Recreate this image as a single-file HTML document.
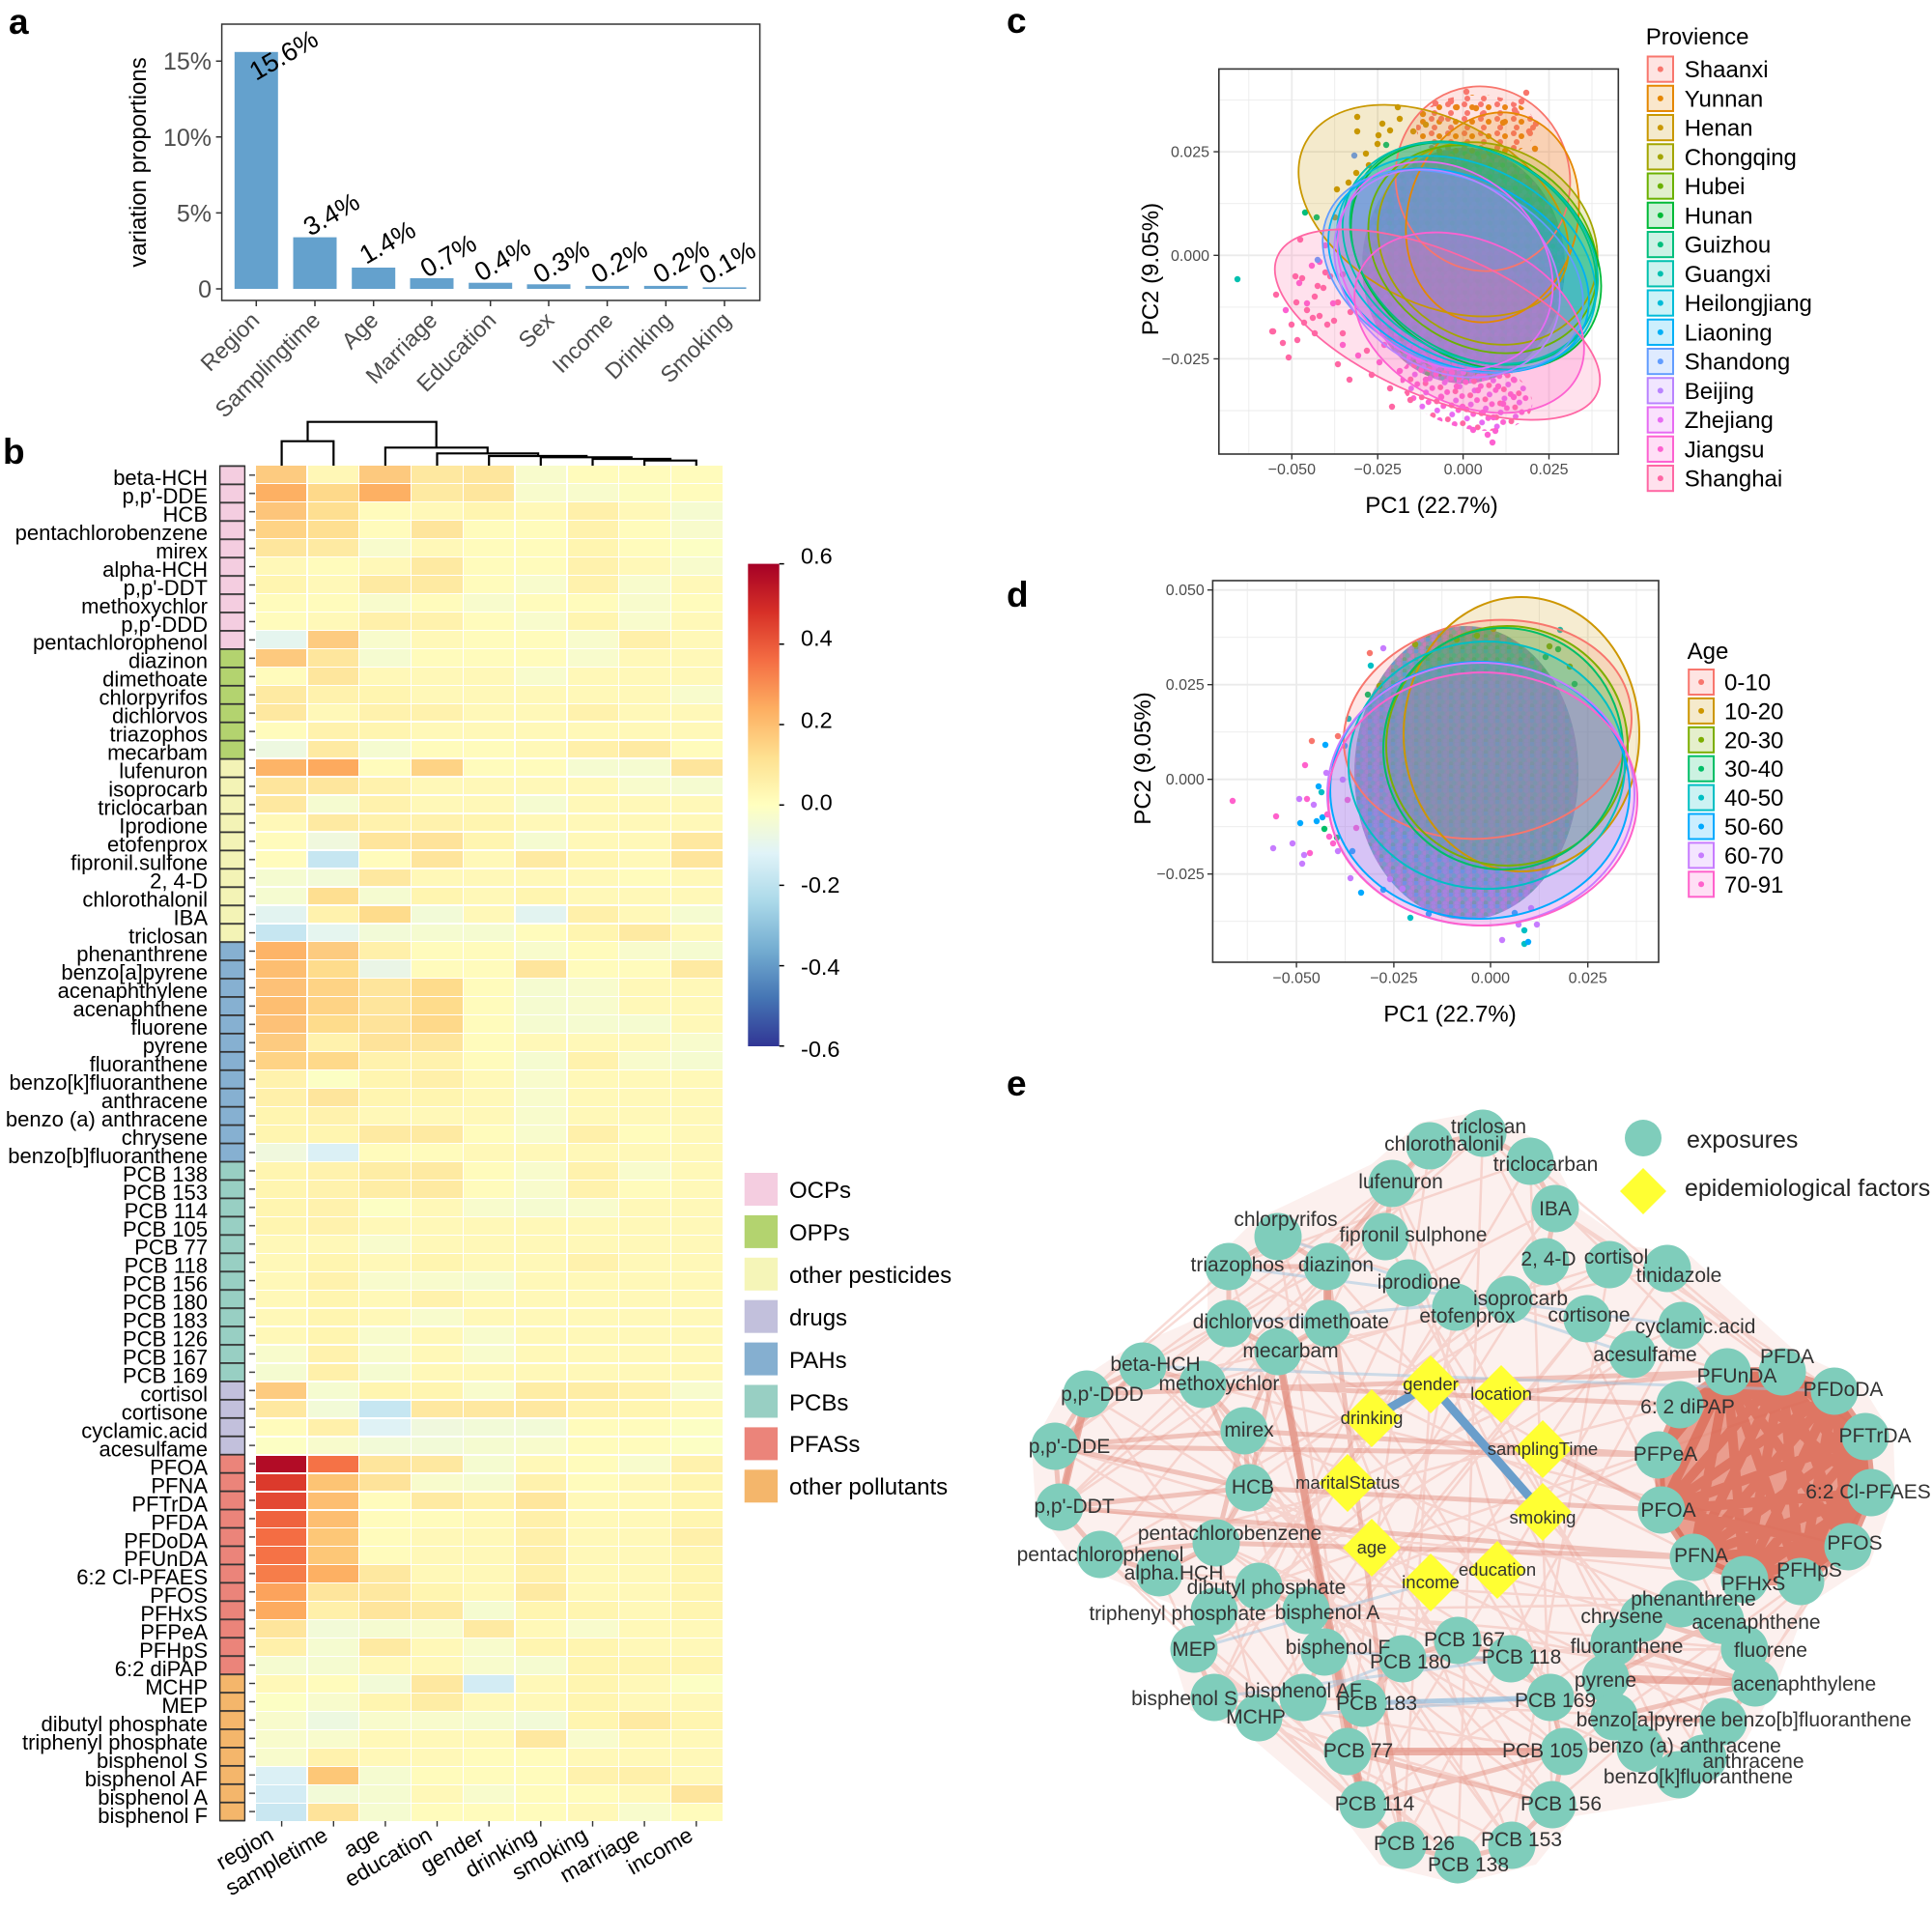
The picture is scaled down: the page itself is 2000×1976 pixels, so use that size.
<!DOCTYPE html>
<html><head><meta charset="utf-8">
<style>
body{margin:0;width:2000px;height:1976px;position:relative;background:#fff;overflow:hidden;font-family:"Liberation Sans",Arial,sans-serif}
svg{position:absolute;left:0;top:0}
svg text{font-family:"Liberation Sans",Arial,sans-serif}
#hm{position:absolute;left:264.8px;top:482.3px;width:482.8px;height:1402.3px;display:grid;grid-template-columns:repeat(9,1fr);grid-template-rows:repeat(74,1fr);gap:1.4px;background:#fff}
#hm i{display:block}
.A{background:#fffbbc}.B{background:#fff8b8}.C{background:#fff5b0}.D{background:#fff2ad}.E{background:#fff0aa}.F{background:#feeda5}.G{background:#feeaa2}.H{background:#fee59c}.I{background:#fee39a}.J{background:#f8fbcc}.K{background:#f5fbd0}.L{background:#f2fad7}.M{background:#fcfec4}.N{background:#edf8e0}.O{background:#e5f5ef}.P{background:#c6e6f1}.Q{background:#fdcb80}.R{background:#fdb063}.S{background:#fedf91}.T{background:#fed385}.U{background:#fdc57a}.V{background:#fed98a}.W{background:#fdb467}.X{background:#fdaa5e}.Y{background:#fedc8c}.Z{background:#fdbe71}
.a{background:#fdc177}.b{background:#dff2f5}.c{background:#f0f8dd}.d{background:#dbf0f5}.e{background:#d3ecf4}.f{background:#c9e7f1}.g{background:#e2f3f0}.h{background:#b20c26}.k{background:#f57246}.l{background:#dc3a2c}.m{background:#fdc474}.n{background:#e34933}.o{background:#ef633e}.p{background:#f46d43}.q{background:#fdc777}.r{background:#f67d4a}.s{background:#fca35c}.t{background:#fdab5f}.u{background:#fee8a0}.v{background:#fff7b6}.w{background:#fdc97e}.x{background:#fee69d}.y{background:#eaf5e6}.z{background:#fcfcc0}
</style></head><body>
<svg width="2000" height="1976" viewBox="0 0 2000 1976" font-family="Liberation Sans, Arial, sans-serif">
<defs>
<linearGradient id="cb" x1="0" y1="0" x2="0" y2="1">
<stop offset="0" stop-color="#a50026"/><stop offset=".1" stop-color="#d73027"/><stop offset=".2" stop-color="#f46d43"/><stop offset=".3" stop-color="#fdae61"/><stop offset=".4" stop-color="#fee090"/><stop offset=".5" stop-color="#ffffbf"/><stop offset=".6" stop-color="#e0f3f8"/><stop offset=".7" stop-color="#abd9e9"/><stop offset=".8" stop-color="#74add1"/><stop offset=".9" stop-color="#4575b4"/><stop offset="1" stop-color="#313695"/>
</linearGradient>
<pattern id="rowl" x="227" y="481.5" width="28" height="18.95" patternUnits="userSpaceOnUse"><rect width="28" height="1.8" fill="#333"/></pattern>
<pattern id="tk" x="258" y="482.3" width="6" height="18.95" patternUnits="userSpaceOnUse"><rect y="8.8" width="6" height="1.4" fill="#333"/></pattern>
<pattern id="pc" width="13" height="12" patternUnits="userSpaceOnUse"><rect width="13" height="12" fill="#9a88b8"/><circle cx="2" cy="2" r="2.6" fill="#8a8ee8"/><circle cx="8.5" cy="3" r="2.6" fill="#4fae6a"/><circle cx="5" cy="7" r="2.6" fill="#B983FF"/><circle cx="11.5" cy="8" r="2.6" fill="#4fb8bc"/><circle cx="2" cy="10.5" r="2.6" fill="#E76BF3"/><circle cx="8.5" cy="11" r="2.6" fill="#c070d0"/></pattern>
<pattern id="pt" width="17" height="15" patternUnits="userSpaceOnUse"><circle cx="3" cy="3" r="3" fill="#F8766D"/><circle cx="11" cy="6" r="3" fill="#E58700"/><circle cx="6" cy="12" r="3" fill="#F8766D"/></pattern>
<pattern id="pp" width="16" height="15" patternUnits="userSpaceOnUse"><circle cx="3" cy="3" r="3" fill="#FF67A4"/><circle cx="11" cy="6" r="3" fill="#FD61D1"/><circle cx="6" cy="12" r="3" fill="#E76BF3"/></pattern>
<pattern id="pd" width="12" height="12" patternUnits="userSpaceOnUse"><rect width="12" height="12" fill="#8d93bb"/><circle cx="2" cy="2" r="2.4" fill="#4aa3e0"/><circle cx="8" cy="2.5" r="2.4" fill="#a888d8"/><circle cx="5" cy="6.5" r="2.4" fill="#5ab0b4"/><circle cx="11" cy="7" r="2.4" fill="#c080c0"/><circle cx="2" cy="10.5" r="2.4" fill="#5aa888"/><circle cx="8" cy="11" r="2.4" fill="#a888d8"/></pattern>
<ellipse id="c1" cx="1535" cy="185" rx="90" ry="96" transform="rotate(-15 1535 185)"/>
<ellipse id="c2" cx="1545" cy="225" rx="88" ry="110" transform="rotate(15 1545 225)"/>
<ellipse id="c3" cx="1484" cy="218" rx="150" ry="95" transform="rotate(28 1484 218)"/>
<ellipse id="c4" cx="1540" cy="252" rx="118" ry="100" transform="rotate(30 1540 252)"/>
<ellipse id="c5" cx="1535" cy="258" rx="125" ry="100" transform="rotate(32 1535 258)"/>
<ellipse id="c6" cx="1528" cy="265" rx="140" ry="105" transform="rotate(35 1528 265)"/>
<ellipse id="c7" cx="1525" cy="262" rx="138" ry="103" transform="rotate(35 1525 262)"/>
<ellipse id="c8" cx="1522" cy="262" rx="140" ry="105" transform="rotate(30 1522 262)"/>
<ellipse id="c9" cx="1518" cy="272" rx="142" ry="100" transform="rotate(28 1518 272)"/>
<ellipse id="c10" cx="1510" cy="280" rx="142" ry="96" transform="rotate(25 1510 280)"/>
<ellipse id="c11" cx="1504" cy="281" rx="142" ry="95" transform="rotate(25 1504 281)"/>
<ellipse id="c12" cx="1498" cy="283" rx="125" ry="98" transform="rotate(35 1498 283)"/>
<ellipse id="c13" cx="1496" cy="275" rx="120" ry="98" transform="rotate(40 1496 275)"/>
<ellipse id="c14" cx="1521" cy="334" rx="125" ry="85" transform="rotate(25 1521 334)"/>
<ellipse id="c15" cx="1488" cy="336" rx="180" ry="75" transform="rotate(23 1488 336)"/>
<ellipse id="d1" cx="1540" cy="755" rx="150" ry="112" transform="rotate(-10 1540 755)"/>
<ellipse id="d2" cx="1575" cy="760" rx="122" ry="142"/>
<ellipse id="d3" cx="1560" cy="772" rx="125" ry="124"/>
<ellipse id="d4" cx="1556" cy="775" rx="124" ry="125"/>
<ellipse id="d5" cx="1539" cy="792" rx="143" ry="128"/>
<ellipse id="d6" cx="1532" cy="818" rx="155" ry="133"/>
<ellipse id="d7" cx="1533" cy="822" rx="159" ry="136"/>
<ellipse id="d8" cx="1535" cy="827" rx="160" ry="131"/>
<clipPath id="clc"><rect x="1261.8" y="71.4" width="413.5" height="398.6"/></clipPath>
<clipPath id="cld"><rect x="1255.4" y="601" width="461.6" height="395"/></clipPath>
</defs>

<!-- panel letters -->
<g font-size="37" font-weight="bold" fill="#000">
<text x="9" y="35">a</text><text x="3" y="480">b</text><text x="1042" y="34">c</text><text x="1042" y="628">d</text><text x="1042" y="1134">e</text>
</g>

<!-- ===== panel a ===== -->
<g fill="#64a1cd">
<rect x="242.8" y="53.8" width="45" height="245.2"/>
<rect x="303.5" y="245.6" width="45" height="53.4"/>
<rect x="364.2" y="277" width="45" height="22"/>
<rect x="424.5" y="288" width="45" height="11"/>
<rect x="485.2" y="292.7" width="45" height="6.3"/>
<rect x="545.5" y="294.3" width="45" height="4.7"/>
<rect x="606.1" y="295.9" width="45" height="3.1"/>
<rect x="666.8" y="295.9" width="45" height="3.1"/>
<rect x="727.5" y="297.4" width="45" height="1.6"/>
</g>
<rect x="229.6" y="25" width="557" height="286" fill="none" stroke="#333" stroke-width="1.5"/>
<path d="M223.6 299h6M223.6 220.4h6M223.6 141.8h6M223.6 63.2h6M265.3 311v6M326 311v6M386.7 311v6M447 311v6M507.7 311v6M568 311v6M628.6 311v6M689.3 311v6M750 311v6" stroke="#333" stroke-width="1.5"/>
<g font-size="25" fill="#4d4d4d" text-anchor="end">
<text x="219" y="308">0</text><text x="219" y="229.4">5%</text><text x="219" y="150.8">10%</text><text x="219" y="72.2">15%</text>
</g>
<text transform="translate(151 168) rotate(-90)" text-anchor="middle" font-size="24" fill="#000">variation proportions</text>
<g font-size="27" fill="#000">
<text transform="translate(265 84) rotate(-30)">15.6%</text>
<text transform="translate(321 245) rotate(-30)">3.4%</text>
<text transform="translate(379 274) rotate(-30)">1.4%</text>
<text transform="translate(442 288) rotate(-30)">0.7%</text>
<text transform="translate(498 292) rotate(-30)">0.4%</text>
<text transform="translate(559 294) rotate(-30)">0.3%</text>
<text transform="translate(619 294) rotate(-30)">0.2%</text>
<text transform="translate(683 294) rotate(-30)">0.2%</text>
<text transform="translate(731 295) rotate(-30)">0.1%</text>
</g>
<g font-size="23.5" fill="#4d4d4d" text-anchor="end">
<text transform="translate(270 333) rotate(-45)">Region</text>
<text transform="translate(333 333) rotate(-45)">Samplingtime</text>
<text transform="translate(393 333) rotate(-45)">Age</text>
<text transform="translate(454 333) rotate(-45)">Marriage</text>
<text transform="translate(515 333) rotate(-45)">Education</text>
<text transform="translate(575 333) rotate(-45)">Sex</text>
<text transform="translate(636 333) rotate(-45)">Income</text>
<text transform="translate(697 333) rotate(-45)">Drinking</text>
<text transform="translate(758 333) rotate(-45)">Smoking</text>
</g>

<!-- ===== panel b ===== -->
<path d="M291.6 482.3V456.7H345.3V482.3M318.5 456.7V436.7H451.7V463.3M398.9 482.3V463.3H504.75V469.3M452.5 482.3V469.3H557.1V472M506.2 482.3V472H607.2V473.3M559.8 482.3V473.3H653.75V475M613.5 482.3V475H694V476.7M667.1 482.3V476.7H720.8V482.3" fill="none" stroke="#000" stroke-width="2.2"/>
<g>
<rect x="227.6" y="482.3" width="25.8" height="189.5" fill="#f4cde0"/>
<rect x="227.6" y="671.8" width="25.8" height="113.7" fill="#b3d36f"/>
<rect x="227.6" y="785.5" width="25.8" height="189.5" fill="#f3f3b6"/>
<rect x="227.6" y="975" width="25.8" height="227.4" fill="#86b0d1"/>
<rect x="227.6" y="1202.4" width="25.8" height="227.4" fill="#98cfc3"/>
<rect x="227.6" y="1429.8" width="25.8" height="75.8" fill="#c2c0dc"/>
<rect x="227.6" y="1505.6" width="25.8" height="227.4" fill="#eb847a"/>
<rect x="227.6" y="1733" width="25.8" height="151.6" fill="#f4b66b"/>
<rect x="227.6" y="481.5" width="25.8" height="1404" fill="url(#rowl)"/>
<rect x="227.6" y="482.3" width="25.8" height="1402.3" fill="none" stroke="#333" stroke-width="1.4"/>
<rect x="258" y="482.3" width="6" height="1402.3" fill="url(#tk)"/>
</g>
<text x="215" y="502" text-anchor="end" font-size="22" fill="#000"><tspan x="215">beta-HCH</tspan><tspan x="215" dy="18.97">p,p'-DDE</tspan><tspan x="215" dy="18.97">HCB</tspan><tspan x="215" dy="18.97">pentachlorobenzene</tspan><tspan x="215" dy="18.97">mirex</tspan><tspan x="215" dy="18.97">alpha-HCH</tspan><tspan x="215" dy="18.97">p,p'-DDT</tspan><tspan x="215" dy="18.97">methoxychlor</tspan><tspan x="215" dy="18.97">p,p'-DDD</tspan><tspan x="215" dy="18.97">pentachlorophenol</tspan><tspan x="215" dy="18.97">diazinon</tspan><tspan x="215" dy="18.97">dimethoate</tspan><tspan x="215" dy="18.97">chlorpyrifos</tspan><tspan x="215" dy="18.97">dichlorvos</tspan><tspan x="215" dy="18.97">triazophos</tspan><tspan x="215" dy="18.97">mecarbam</tspan><tspan x="215" dy="18.97">lufenuron</tspan><tspan x="215" dy="18.97">isoprocarb</tspan><tspan x="215" dy="18.97">triclocarban</tspan><tspan x="215" dy="18.97">Iprodione</tspan><tspan x="215" dy="18.97">etofenprox</tspan><tspan x="215" dy="18.97">fipronil.sulfone</tspan><tspan x="215" dy="18.97">2, 4-D</tspan><tspan x="215" dy="18.97">chlorothalonil</tspan><tspan x="215" dy="18.97">IBA</tspan><tspan x="215" dy="18.97">triclosan</tspan><tspan x="215" dy="18.97">phenanthrene</tspan><tspan x="215" dy="18.97">benzo[a]pyrene</tspan><tspan x="215" dy="18.97">acenaphthylene</tspan><tspan x="215" dy="18.97">acenaphthene</tspan><tspan x="215" dy="18.97">fluorene</tspan><tspan x="215" dy="18.97">pyrene</tspan><tspan x="215" dy="18.97">fluoranthene</tspan><tspan x="215" dy="18.97">benzo[k]fluoranthene</tspan><tspan x="215" dy="18.97">anthracene</tspan><tspan x="215" dy="18.97">benzo (a) anthracene</tspan><tspan x="215" dy="18.97">chrysene</tspan><tspan x="215" dy="18.97">benzo[b]fluoranthene</tspan><tspan x="215" dy="18.97">PCB 138</tspan><tspan x="215" dy="18.97">PCB 153</tspan><tspan x="215" dy="18.97">PCB 114</tspan><tspan x="215" dy="18.97">PCB 105</tspan><tspan x="215" dy="18.97">PCB 77</tspan><tspan x="215" dy="18.97">PCB 118</tspan><tspan x="215" dy="18.97">PCB 156</tspan><tspan x="215" dy="18.97">PCB 180</tspan><tspan x="215" dy="18.97">PCB 183</tspan><tspan x="215" dy="18.97">PCB 126</tspan><tspan x="215" dy="18.97">PCB 167</tspan><tspan x="215" dy="18.97">PCB 169</tspan><tspan x="215" dy="18.97">cortisol</tspan><tspan x="215" dy="18.97">cortisone</tspan><tspan x="215" dy="18.97">cyclamic.acid</tspan><tspan x="215" dy="18.97">acesulfame</tspan><tspan x="215" dy="18.97">PFOA</tspan><tspan x="215" dy="18.97">PFNA</tspan><tspan x="215" dy="18.97">PFTrDA</tspan><tspan x="215" dy="18.97">PFDA</tspan><tspan x="215" dy="18.97">PFDoDA</tspan><tspan x="215" dy="18.97">PFUnDA</tspan><tspan x="215" dy="18.97">6:2 Cl-PFAES</tspan><tspan x="215" dy="18.97">PFOS</tspan><tspan x="215" dy="18.97">PFHxS</tspan><tspan x="215" dy="18.97">PFPeA</tspan><tspan x="215" dy="18.97">PFHpS</tspan><tspan x="215" dy="18.97">6:2 diPAP</tspan><tspan x="215" dy="18.97">MCHP</tspan><tspan x="215" dy="18.97">MEP</tspan><tspan x="215" dy="18.97">dibutyl phosphate</tspan><tspan x="215" dy="18.97">triphenyl phosphate</tspan><tspan x="215" dy="18.97">bisphenol S</tspan><tspan x="215" dy="18.97">bisphenol AF</tspan><tspan x="215" dy="18.97">bisphenol A</tspan><tspan x="215" dy="18.97">bisphenol F</tspan></text>
<path d="M291.6 1884.6v6M345.3 1884.6v6M398.9 1884.6v6M452.5 1884.6v6M506.2 1884.6v6M559.8 1884.6v6M613.5 1884.6v6M667.1 1884.6v6M720.8 1884.6v6" stroke="#333" stroke-width="1.4"/>
<g font-size="23" fill="#000" text-anchor="end">
<text transform="translate(285 1904) rotate(-30)">region</text>
<text transform="translate(341 1904) rotate(-30)">sampletime</text>
<text transform="translate(395 1904) rotate(-30)">age</text>
<text transform="translate(449 1904) rotate(-30)">education</text>
<text transform="translate(503 1904) rotate(-30)">gender</text>
<text transform="translate(557 1904) rotate(-30)">drinking</text>
<text transform="translate(610 1904) rotate(-30)">smoking</text>
<text transform="translate(664 1904) rotate(-30)">marriage</text>
<text transform="translate(719 1904) rotate(-30)">income</text>
</g>
<!-- colorbar -->
<rect x="774.3" y="583.6" width="32.4" height="499.4" fill="url(#cb)"/>
<path d="M806.7 583.6h5M806.7 666.8h5M806.7 750h5M806.7 833.2h5M806.7 916.4h5M806.7 999.6h5M806.7 1082.8h5" stroke="#000" stroke-width="1.5"/>
<g font-size="23.5" fill="#000">
<text x="829" y="583.5">0.6</text><text x="829" y="668.6">0.4</text><text x="829" y="753.7">0.2</text><text x="829" y="838.7">0.0</text><text x="829" y="923.8">-0.2</text><text x="829" y="1008.9">-0.4</text><text x="829" y="1094">-0.6</text>
</g>
<!-- group legend -->
<g>
<rect x="770.7" y="1214" width="34.3" height="34" fill="#f4cde0"/>
<rect x="770.7" y="1257.9" width="34.3" height="34" fill="#b3d36f"/>
<rect x="770.7" y="1301.8" width="34.3" height="34" fill="#f5f5b8"/>
<rect x="770.7" y="1345.7" width="34.3" height="34" fill="#c2c0dc"/>
<rect x="770.7" y="1389.6" width="34.3" height="34" fill="#85afd0"/>
<rect x="770.7" y="1433.5" width="34.3" height="34" fill="#98cfc3"/>
<rect x="770.7" y="1477.4" width="34.3" height="34" fill="#eb847a"/>
<rect x="770.7" y="1521.3" width="34.3" height="34" fill="#f4b66b"/>
</g>
<g font-size="24" fill="#000">
<text x="817" y="1240">OCPs</text><text x="817" y="1284">OPPs</text><text x="817" y="1328">other pesticides</text><text x="817" y="1372">drugs</text><text x="817" y="1416">PAHs</text><text x="817" y="1460">PCBs</text><text x="817" y="1503">PFASs</text><text x="817" y="1547">other pollutants</text>
</g>

<!-- ===== panel c ===== -->
<g stroke="#ebebeb" fill="none">
<path stroke-width="0.9" d="M1292.8 71.4V470M1381.7 71.4V470M1470.7 71.4V470M1559 71.4V470M1648 71.4V470M1261.8 103.6H1675.3M1261.8 210.7H1675.3M1261.8 317.9H1675.3M1261.8 425H1675.3"/>
<path stroke-width="1.8" d="M1337.3 71.4V470M1426.2 71.4V470M1514.6 71.4V470M1603.5 71.4V470M1261.8 157.1H1675.3M1261.8 264.3H1675.3M1261.8 371.4H1675.3"/>
</g>
<g clip-path="url(#clc)">
<ellipse cx="1515" cy="275" rx="105" ry="122" fill="url(#pc)"/>
<ellipse cx="1528" cy="132" rx="62" ry="34" fill="url(#pt)"/>
<ellipse cx="1518" cy="405" rx="70" ry="38" transform="rotate(15 1518 405)" fill="url(#pp)"/>
<g fill="#FF67A4">
<circle cx="1346" cy="248" r="3.2"/><circle cx="1341" cy="286" r="3.2"/><circle cx="1348" cy="288" r="3.2"/><circle cx="1321" cy="305" r="3.2"/><circle cx="1342" cy="313" r="3.2"/><circle cx="1361" cy="307" r="3.2"/><circle cx="1364" cy="296" r="3.2"/><circle cx="1370" cy="298" r="3.2"/><circle cx="1353" cy="321" r="3.2"/><circle cx="1359" cy="329" r="3.2"/><circle cx="1366" cy="327" r="3.2"/><circle cx="1350" cy="334" r="3.2"/><circle cx="1343" cy="352" r="3.2"/><circle cx="1317" cy="343" r="3.2"/><circle cx="1337" cy="336" r="3.2"/><circle cx="1374" cy="336" r="3.2"/><circle cx="1381" cy="332" r="3.2"/><circle cx="1390" cy="345" r="3.2"/><circle cx="1361" cy="345" r="3.2"/><circle cx="1385" cy="377" r="3.2"/><circle cx="1397" cy="393" r="3.2"/><circle cx="1420" cy="388" r="3.2"/><circle cx="1415" cy="363" r="3.2"/><circle cx="1439" cy="402" r="3.2"/><circle cx="1441" cy="421" r="3.2"/><circle cx="1460" cy="414" r="3.2"/><circle cx="1372" cy="282" r="3.2"/><circle cx="1377" cy="286" r="3.2"/><circle cx="1390" cy="284" r="3.2"/><circle cx="1385" cy="313" r="3.2"/><circle cx="1398" cy="323" r="3.2"/><circle cx="1318" cy="343" r="3.2"/><circle cx="1328" cy="355" r="3.2"/><circle cx="1334" cy="370" r="3.2"/>
</g>
<g fill="#FD61D1">
<circle cx="1366" cy="271" r="3.2"/><circle cx="1358" cy="275" r="3.2"/><circle cx="1372" cy="254" r="3.2"/><circle cx="1380" cy="314" r="3.2"/><circle cx="1353" cy="314" r="3.2"/><circle cx="1345" cy="293" r="3.2"/><circle cx="1331" cy="321" r="3.2"/><circle cx="1390" cy="357" r="3.2"/><circle cx="1406" cy="368" r="3.2"/><circle cx="1428" cy="375" r="3.2"/><circle cx="1433" cy="357" r="3.2"/><circle cx="1449" cy="384" r="3.2"/><circle cx="1476" cy="393" r="3.2"/><circle cx="1492" cy="411" r="3.2"/><circle cx="1514" cy="421" r="3.2"/><circle cx="1535" cy="427" r="3.2"/><circle cx="1546" cy="432" r="3.2"/><circle cx="1540" cy="450" r="3.2"/><circle cx="1548" cy="446" r="3.2"/><circle cx="1525" cy="445" r="3.2"/><circle cx="1556" cy="418" r="3.2"/><circle cx="1567" cy="411" r="3.2"/><circle cx="1508" cy="400" r="3.2"/><circle cx="1530" cy="404" r="3.2"/><circle cx="1551" cy="400" r="3.2"/><circle cx="1481" cy="375" r="3.2"/><circle cx="1503" cy="386" r="3.2"/><circle cx="1465" cy="361" r="3.2"/><circle cx="1535" cy="389" r="3.2"/><circle cx="1559" cy="386" r="3.2"/><circle cx="1567" cy="393" r="3.2"/><circle cx="1545" cy="458" r="3.2"/>
</g>
<g fill="#C99800">
<circle cx="1405" cy="121" r="3.2"/><circle cx="1405" cy="136" r="3.2"/><circle cx="1431" cy="128" r="3.2"/><circle cx="1439" cy="135" r="3.2"/><circle cx="1426" cy="149" r="3.2"/><circle cx="1414" cy="159" r="3.2"/><circle cx="1404" cy="179" r="3.2"/><circle cx="1396" cy="189" r="3.2"/><circle cx="1384" cy="196" r="3.2"/><circle cx="1382" cy="225" r="3.2"/><circle cx="1447" cy="111" r="3.2"/><circle cx="1449" cy="123" r="3.2"/><circle cx="1463" cy="136" r="3.2"/><circle cx="1476" cy="129" r="3.2"/><circle cx="1417" cy="171" r="3.2"/><circle cx="1427" cy="140" r="3.2"/>
</g>
<g fill="#F8766D">
<circle cx="1518" cy="95" r="3.2"/><circle cx="1580" cy="96" r="3.2"/><circle cx="1575" cy="105" r="3.2"/><circle cx="1568" cy="114" r="3.2"/><circle cx="1486" cy="107" r="3.2"/><circle cx="1535" cy="118" r="3.2"/><circle cx="1583" cy="136" r="3.2"/><circle cx="1492" cy="123" r="3.2"/><circle cx="1502" cy="105" r="3.2"/><circle cx="1590" cy="128" r="3.2"/>
</g>
<g fill="#E58700"><circle cx="1508" cy="111" r="3.2"/><circle cx="1556" cy="127" r="3.2"/><circle cx="1589" cy="154" r="3.2"/><circle cx="1473" cy="118" r="3.2"/><circle cx="1528" cy="112" r="3.2"/></g>
<circle cx="1364" cy="269" r="3.2" fill="#619CFF"/><circle cx="1402" cy="161" r="3.2" fill="#619CFF"/><circle cx="1281" cy="289" r="3.2" fill="#00C0AF"/><circle cx="1351" cy="220" r="3.2" fill="#00BF7D"/><circle cx="1363" cy="225" r="3.2" fill="#00BF7D"/><circle cx="1435" cy="150" r="3.2" fill="#00BF7D"/>
<g fill-opacity=".2">
<use href="#c1" fill="#F8766D"/><use href="#c2" fill="#E58700"/><use href="#c3" fill="#C99800"/><use href="#c4" fill="#A3A500"/><use href="#c5" fill="#6BB100"/><use href="#c6" fill="#00BA38"/><use href="#c7" fill="#00BF7D"/><use href="#c8" fill="#00C0AF"/><use href="#c9" fill="#00BCD8"/><use href="#c10" fill="#00B0F6"/><use href="#c11" fill="#619CFF"/><use href="#c12" fill="#B983FF"/><use href="#c13" fill="#E76BF3"/><use href="#c14" fill="#FD61D1"/><use href="#c15" fill="#FF67A4"/>
</g>
<g fill="none" stroke-width="1.8">
<use href="#c1" stroke="#F8766D"/><use href="#c2" stroke="#E58700"/><use href="#c3" stroke="#C99800"/><use href="#c4" stroke="#A3A500"/><use href="#c5" stroke="#6BB100"/><use href="#c6" stroke="#00BA38"/><use href="#c7" stroke="#00BF7D"/><use href="#c8" stroke="#00C0AF"/><use href="#c9" stroke="#00BCD8"/><use href="#c10" stroke="#00B0F6"/><use href="#c11" stroke="#619CFF"/><use href="#c12" stroke="#B983FF"/><use href="#c13" stroke="#E76BF3"/><use href="#c14" stroke="#FD61D1"/><use href="#c15" stroke="#FF67A4"/>
</g>
</g>
<rect x="1261.8" y="71.4" width="413.5" height="398.6" fill="none" stroke="#333" stroke-width="1.6"/>
<path d="M1256.3 157.1h5.5M1256.3 264.3h5.5M1256.3 371.4h5.5M1337.3 470v5.5M1426.2 470v5.5M1514.6 470v5.5M1603.5 470v5.5" stroke="#333" stroke-width="1.4"/>
<g font-size="16" fill="#4d4d4d">
<g text-anchor="end"><text x="1252" y="162.6">0.025</text><text x="1252" y="269.8">0.000</text><text x="1252" y="376.9">−0.025</text></g>
<g text-anchor="middle"><text x="1337.3" y="491">−0.050</text><text x="1426.2" y="491">−0.025</text><text x="1514.6" y="491">0.000</text><text x="1603.5" y="491">0.025</text></g>
</g>
<text x="1482" y="531" text-anchor="middle" font-size="24">PC1 (22.7%)</text>
<text transform="translate(1199 278.6) rotate(-90)" text-anchor="middle" font-size="24">PC2 (9.05%)</text>
<text x="1703.7" y="46" font-size="24">Provience</text>
<g transform="translate(0 -2.5)">
<g stroke-width="2" fill-opacity=".2">
<rect x="1705.7" y="61" width="26.3" height="26.2" fill="#F8766D" stroke="#F8766D"/>
<rect x="1705.7" y="91.25" width="26.3" height="26.2" fill="#E58700" stroke="#E58700"/>
<rect x="1705.7" y="121.5" width="26.3" height="26.2" fill="#C99800" stroke="#C99800"/>
<rect x="1705.7" y="151.75" width="26.3" height="26.2" fill="#A3A500" stroke="#A3A500"/>
<rect x="1705.7" y="182" width="26.3" height="26.2" fill="#6BB100" stroke="#6BB100"/>
<rect x="1705.7" y="212.25" width="26.3" height="26.2" fill="#00BA38" stroke="#00BA38"/>
<rect x="1705.7" y="242.5" width="26.3" height="26.2" fill="#00BF7D" stroke="#00BF7D"/>
<rect x="1705.7" y="272.75" width="26.3" height="26.2" fill="#00C0AF" stroke="#00C0AF"/>
<rect x="1705.7" y="303" width="26.3" height="26.2" fill="#00BCD8" stroke="#00BCD8"/>
<rect x="1705.7" y="333.25" width="26.3" height="26.2" fill="#00B0F6" stroke="#00B0F6"/>
<rect x="1705.7" y="363.5" width="26.3" height="26.2" fill="#619CFF" stroke="#619CFF"/>
<rect x="1705.7" y="393.75" width="26.3" height="26.2" fill="#B983FF" stroke="#B983FF"/>
<rect x="1705.7" y="424" width="26.3" height="26.2" fill="#E76BF3" stroke="#E76BF3"/>
<rect x="1705.7" y="454.25" width="26.3" height="26.2" fill="#FD61D1" stroke="#FD61D1"/>
<rect x="1705.7" y="484.5" width="26.3" height="26.2" fill="#FF67A4" stroke="#FF67A4"/>
</g>
<g>
<circle cx="1718.85" cy="74.1" r="3" fill="#F8766D"/><circle cx="1718.85" cy="104.35" r="3" fill="#E58700"/><circle cx="1718.85" cy="134.6" r="3" fill="#C99800"/><circle cx="1718.85" cy="164.85" r="3" fill="#A3A500"/><circle cx="1718.85" cy="195.1" r="3" fill="#6BB100"/><circle cx="1718.85" cy="225.35" r="3" fill="#00BA38"/><circle cx="1718.85" cy="255.6" r="3" fill="#00BF7D"/><circle cx="1718.85" cy="285.85" r="3" fill="#00C0AF"/><circle cx="1718.85" cy="316.1" r="3" fill="#00BCD8"/><circle cx="1718.85" cy="346.35" r="3" fill="#00B0F6"/><circle cx="1718.85" cy="376.6" r="3" fill="#619CFF"/><circle cx="1718.85" cy="406.85" r="3" fill="#B983FF"/><circle cx="1718.85" cy="437.1" r="3" fill="#E76BF3"/><circle cx="1718.85" cy="467.35" r="3" fill="#FD61D1"/><circle cx="1718.85" cy="497.6" r="3" fill="#FF67A4"/>
</g>
<g font-size="24" fill="#000">
<text x="1743.8" y="82.6">Shaanxi</text><text x="1743.8" y="112.85">Yunnan</text><text x="1743.8" y="143.1">Henan</text><text x="1743.8" y="173.35">Chongqing</text><text x="1743.8" y="203.6">Hubei</text><text x="1743.8" y="233.85">Hunan</text><text x="1743.8" y="264.1">Guizhou</text><text x="1743.8" y="294.35">Guangxi</text><text x="1743.8" y="324.6">Heilongjiang</text><text x="1743.8" y="354.85">Liaoning</text><text x="1743.8" y="385.1">Shandong</text><text x="1743.8" y="415.35">Beijing</text><text x="1743.8" y="445.6">Zhejiang</text><text x="1743.8" y="475.85">Jiangsu</text><text x="1743.8" y="506.1">Shanghai</text>
</g>
</g>

<!-- ===== panel d ===== -->
<g stroke="#ebebeb" fill="none">
<path stroke-width="0.9" d="M1291.2 601V996M1392.5 601V996M1492.7 601V996M1593.4 601V996M1694 601V996M1255.4 659.7H1717M1255.4 757.7H1717M1255.4 855.7H1717M1255.4 953.7H1717"/>
<path stroke-width="1.8" d="M1342.1 601V996M1442.9 601V996M1543 601V996M1643.7 601V996M1255.4 610.7H1717M1255.4 708.7H1717M1255.4 806.7H1717M1255.4 904.7H1717"/>
</g>
<g clip-path="url(#cld)">
<ellipse cx="1518" cy="800" rx="116" ry="152" fill="url(#pd)"/>
<circle cx="1276" cy="829" r="3.2" fill="#FF61CC"/><circle cx="1321" cy="845" r="3.2" fill="#FF61CC"/><circle cx="1318" cy="878" r="3.2" fill="#C77CFF"/><circle cx="1338" cy="873" r="3.2" fill="#C77CFF"/><circle cx="1346" cy="852" r="3.2" fill="#00A9FF"/><circle cx="1348" cy="894" r="3.2" fill="#C77CFF"/><circle cx="1345" cy="827" r="3.2" fill="#C77CFF"/><circle cx="1351" cy="792" r="3.2" fill="#FF61CC"/><circle cx="1353" cy="827" r="3.2" fill="#FF61CC"/><circle cx="1358" cy="767" r="3.2" fill="#F8766D"/><circle cx="1360" cy="833" r="3.2" fill="#C77CFF"/><circle cx="1350" cy="885" r="3.2" fill="#C77CFF"/><circle cx="1356" cy="883" r="3.2" fill="#FF61CC"/><circle cx="1363" cy="850" r="3.2" fill="#00A9FF"/><circle cx="1365" cy="814" r="3.2" fill="#00A9FF"/><circle cx="1368" cy="820" r="3.2" fill="#00BFC4"/><circle cx="1369" cy="846" r="3.2" fill="#00A9FF"/><circle cx="1371" cy="858" r="3.2" fill="#00BE67"/><circle cx="1372" cy="771" r="3.2" fill="#00A9FF"/><circle cx="1373" cy="800" r="3.2" fill="#C77CFF"/><circle cx="1374" cy="843" r="3.2" fill="#FF61CC"/><circle cx="1376" cy="866" r="3.2" fill="#FF61CC"/><circle cx="1380" cy="873" r="3.2" fill="#FF61CC"/><circle cx="1384" cy="867" r="3.2" fill="#00BE67"/><circle cx="1385" cy="881" r="3.2" fill="#C77CFF"/><circle cx="1385" cy="762" r="3.2" fill="#F8766D"/><circle cx="1390" cy="807" r="3.2" fill="#C77CFF"/><circle cx="1392" cy="772" r="3.2" fill="#00A9FF"/><circle cx="1395" cy="828" r="3.2" fill="#FF61CC"/><circle cx="1396" cy="744" r="3.2" fill="#00BFC4"/><circle cx="1398" cy="909" r="3.2" fill="#C77CFF"/><circle cx="1400" cy="881" r="3.2" fill="#00A9FF"/><circle cx="1404" cy="857" r="3.2" fill="#FF61CC"/><circle cx="1409" cy="924" r="3.2" fill="#00A9FF"/><circle cx="1418" cy="676" r="3.2" fill="#F8766D"/><circle cx="1432" cy="671" r="3.2" fill="#C77CFF"/><circle cx="1419" cy="689" r="3.2" fill="#00BFC4"/><circle cx="1416" cy="719" r="3.2" fill="#00BE67"/><circle cx="1428" cy="710" r="3.2" fill="#7CAE00"/><circle cx="1432" cy="921" r="3.2" fill="#00A9FF"/><circle cx="1439" cy="910" r="3.2" fill="#C77CFF"/><circle cx="1452" cy="920" r="3.2" fill="#C77CFF"/><circle cx="1460" cy="950" r="3.2" fill="#00BFC4"/><circle cx="1479" cy="946" r="3.2" fill="#00A9FF"/><circle cx="1555" cy="973" r="3.2" fill="#C77CFF"/><circle cx="1578" cy="977" r="3.2" fill="#00BFC4"/><circle cx="1582" cy="975" r="3.2" fill="#00A9FF"/><circle cx="1591" cy="957" r="3.2" fill="#C77CFF"/><circle cx="1578" cy="963" r="3.2" fill="#00BFC4"/><circle cx="1572" cy="957" r="3.2" fill="#C77CFF"/><circle cx="1568" cy="945" r="3.2" fill="#00A9FF"/><circle cx="1585" cy="940" r="3.2" fill="#C77CFF"/><circle cx="1615" cy="652" r="3.2" fill="#00BFC4"/><circle cx="1546" cy="651" r="3.2" fill="#CD9600"/><circle cx="1529" cy="658" r="3.2" fill="#7CAE00"/><circle cx="1604" cy="669" r="3.2" fill="#7CAE00"/><circle cx="1613" cy="672" r="3.2" fill="#00BE67"/><circle cx="1508" cy="662" r="3.2" fill="#7CAE00"/><circle cx="1465" cy="667" r="3.2" fill="#7CAE00"/><circle cx="1630" cy="708" r="3.2" fill="#00BE67"/><circle cx="1625" cy="690" r="3.2" fill="#7CAE00"/><circle cx="1600" cy="680" r="3.2" fill="#00BE67"/>
<g fill-opacity=".18">
<use href="#d1" fill="#F8766D"/><use href="#d2" fill="#CD9600"/><use href="#d3" fill="#7CAE00"/><use href="#d4" fill="#00BE67"/><use href="#d5" fill="#00BFC4"/><use href="#d6" fill="#00A9FF"/><use href="#d7" fill="#C77CFF"/><use href="#d8" fill="#FF61CC"/>
</g>
<g fill="none" stroke-width="2">
<use href="#d1" stroke="#F8766D"/><use href="#d2" stroke="#CD9600"/><use href="#d3" stroke="#7CAE00"/><use href="#d4" stroke="#00BE67"/><use href="#d5" stroke="#00BFC4"/><use href="#d6" stroke="#00A9FF"/><use href="#d7" stroke="#C77CFF"/><use href="#d8" stroke="#FF61CC"/>
</g>
</g>
<rect x="1255.4" y="601" width="461.6" height="395" fill="none" stroke="#333" stroke-width="1.6"/>
<path d="M1249.9 610.7h5.5M1249.9 708.7h5.5M1249.9 806.7h5.5M1249.9 904.7h5.5M1342.1 996v5.5M1442.9 996v5.5M1543 996v5.5M1643.7 996v5.5" stroke="#333" stroke-width="1.4"/>
<g font-size="16" fill="#4d4d4d">
<g text-anchor="end"><text x="1246.8" y="616.2">0.050</text><text x="1246.8" y="714.2">0.025</text><text x="1246.8" y="812.2">0.000</text><text x="1246.8" y="910.2">−0.025</text></g>
<g text-anchor="middle"><text x="1342.1" y="1017.5">−0.050</text><text x="1442.9" y="1017.5">−0.025</text><text x="1543" y="1017.5">0.000</text><text x="1643.7" y="1017.5">0.025</text></g>
</g>
<text x="1501" y="1057.5" text-anchor="middle" font-size="24">PC1 (22.7%)</text>
<text transform="translate(1191 785) rotate(-90)" text-anchor="middle" font-size="24">PC2 (9.05%)</text>
<text x="1746.6" y="682" font-size="24">Age</text>
<g stroke-width="2" fill-opacity=".2">
<rect x="1748.2" y="693" width="25.8" height="26" fill="#F8766D" stroke="#F8766D"/>
<rect x="1748.2" y="722.9" width="25.8" height="26" fill="#CD9600" stroke="#CD9600"/>
<rect x="1748.2" y="752.8" width="25.8" height="26" fill="#7CAE00" stroke="#7CAE00"/>
<rect x="1748.2" y="782.7" width="25.8" height="26" fill="#00BE67" stroke="#00BE67"/>
<rect x="1748.2" y="812.6" width="25.8" height="26" fill="#00BFC4" stroke="#00BFC4"/>
<rect x="1748.2" y="842.5" width="25.8" height="26" fill="#00A9FF" stroke="#00A9FF"/>
<rect x="1748.2" y="872.4" width="25.8" height="26" fill="#C77CFF" stroke="#C77CFF"/>
<rect x="1748.2" y="902.3" width="25.8" height="26" fill="#FF61CC" stroke="#FF61CC"/>
</g>
<circle cx="1761.1" cy="706" r="3" fill="#F8766D"/><circle cx="1761.1" cy="735.9" r="3" fill="#CD9600"/><circle cx="1761.1" cy="765.8" r="3" fill="#7CAE00"/><circle cx="1761.1" cy="795.7" r="3" fill="#00BE67"/><circle cx="1761.1" cy="825.6" r="3" fill="#00BFC4"/><circle cx="1761.1" cy="855.5" r="3" fill="#00A9FF"/><circle cx="1761.1" cy="885.4" r="3" fill="#C77CFF"/><circle cx="1761.1" cy="915.3" r="3" fill="#FF61CC"/>
<g font-size="24" fill="#000">
<text x="1785" y="714.5">0-10</text><text x="1785" y="744.4">10-20</text><text x="1785" y="774.3">20-30</text><text x="1785" y="804.2">30-40</text><text x="1785" y="834.1">40-50</text><text x="1785" y="864">50-60</text><text x="1785" y="893.9">60-70</text><text x="1785" y="923.8">70-91</text>
</g>

<!-- ===== panel e ===== -->
<polygon points="1535,1150 1600,1185 1635,1251 1690,1290 1750,1300 1860,1400 1925,1430 1960,1487 1962,1545 1935,1620 1870,1662 1840,1742 1808,1800 1762,1845 1740,1862 1630,1880 1590,1930 1509,1950 1428,1930 1390,1880 1285,1790 1232,1770 1212,1707 1232,1668 1115,1620 1072,1560 1068,1497 1100,1440 1160,1400 1250,1360 1250,1311 1300,1262 1420,1205 1470,1162" fill="#f6d4cd" fill-opacity=".35"/>
<g stroke="#efb0a5" stroke-opacity=".45" stroke-width="2.5" stroke-linecap="round">
<path d="M1480 1186L1395 1813M1535 1173L1509 1925M1535 1173L1817 1742M1535 1173L1245 1433M1584 1202L1607 1868M1584 1202L1257 1757M1610 1251L1845 1420M1610 1251L1236 1707M1441 1225L1619 1813M1441 1225L1738 1837M1323 1280L1411 1868M1323 1280L1788 1420M1434 1280L1662 1737M1434 1280L1097 1560M1272 1311L1452 1910M1272 1311L1720 1563M1374 1311L1784 1782M1600 1306L1303 1778M1666 1309L1139 1609M1666 1309L1565 1910M1726 1313L1125 1443M1726 1313L1411 1763M1458 1328L1763 1820M1562 1345L1257 1668M1507 1353L1411 1868M1643 1365L1371 1710M1272 1370L1806 1635M1374 1370L1605 1757M1741 1372L1200 1628M1323 1399L1698 1810M1690 1402L1303 1642M1183 1414L1607 1868M1245 1433L1913 1601M1125 1443L1395 1813M1739 1454L1139 1609M1288 1481L1509 1925M1092 1497L1619 1813M1717 1506L1236 1707M1293 1540L1565 1910M1097 1560L1864 1637M1259 1597L1607 1868M1139 1609L1452 1910M1200 1628L1740 1660M1303 1642L1899 1440M1257 1668L1411 1868M1352 1667L1817 1742M1236 1707L1452 1910M1371 1710L1806 1707M1257 1757L1619 1813M1349 1757L1784 1782M1303 1778L1607 1868M1395 1813L1698 1810M1411 1868L1671 1700M1509 1925L1740 1660M1565 1910L1245 1433M1738 1837L1303 1642M1701 1675L1092 1497M1781 1677L1288 1481M1481 1433L1452 1910M1554 1443L1236 1707M1183 1414L1374 1311M1125 1443L1323 1280M1092 1497L1272 1370M1097 1560L1374 1370M1259 1597L1441 1225M1139 1609L1480 1186M1272 1311L1584 1202M1323 1399L1610 1251M1245 1433L1666 1309M1293 1540L1562 1345M1236 1707L1507 1353M1257 1757L1458 1328M1303 1778L1643 1365M1411 1868L1690 1402M1452 1910L1741 1372M1565 1910L1323 1280M1607 1868L1272 1370M1619 1813L1183 1414M1671 1777L1125 1443M1784 1782L1293 1540M1763 1820L1259 1597M1817 1742L1200 1628M1806 1707L1352 1667M1740 1660L1257 1668M1092 1497L1535 1173M1097 1560L1480 1186M1139 1609L1509 1925M1236 1707L1509 1925M1257 1757L1565 1910M1303 1778L1452 1910M1607 1868L1913 1601M1619 1813L1864 1637M1738 1837L1806 1635M1784 1782L1913 1601M1817 1742L1937 1545M1899 1440L1610 1251M1845 1420L1584 1202M1931 1487L1726 1313M1788 1420L1535 1173M1183 1414L1441 1225M1125 1443L1272 1311M1092 1497L1183 1414M1293 1540L1349 1757M1259 1597L1303 1778M1200 1628L1236 1707"/>
</g>
<g stroke="#e39486" stroke-opacity=".5" stroke-width="5" stroke-linecap="round">
<path d="M1125 1443L1092 1497M1092 1497L1097 1560M1097 1560L1139 1609M1139 1609L1259 1597M1125 1443L1183 1414M1183 1414L1245 1433M1245 1433L1288 1481M1092 1497L1288 1481M1092 1497L1293 1540M1097 1560L1293 1540M1293 1540L1259 1597M1293 1540L1288 1481M1323 1399L1288 1481M1323 1399L1293 1540M1323 1399L1374 1370M1323 1399L1272 1370M1272 1370L1272 1311M1272 1311L1374 1311M1374 1311L1374 1370M1374 1311L1323 1280M1323 1280L1272 1311M1441 1225L1374 1311M1441 1225L1434 1280M1441 1225L1480 1186M1480 1186L1535 1173M1535 1173L1584 1202M1584 1202L1610 1251M1610 1251L1600 1306M1323 1399L1395 1813M1323 1399L1411 1868M1374 1311L1452 1910M1125 1443L1788 1420M1293 1540L1720 1563M1259 1597L1753 1612M1092 1497L1717 1506M1245 1433L1739 1454M1554 1443L1788 1420M1597 1500L1720 1563M1288 1481L1717 1506M1097 1560L1753 1612M1740 1660L1781 1677M1781 1677L1806 1707M1806 1707L1817 1742M1817 1742L1784 1782M1784 1782L1671 1777M1671 1777L1662 1737M1662 1737L1671 1700M1671 1700L1701 1675M1701 1675L1740 1660M1698 1810L1763 1820M1763 1820L1738 1837M1738 1837L1671 1777M1671 1700L1817 1742M1701 1675L1806 1707M1698 1810L1671 1777M1740 1660L1671 1700M1781 1677L1662 1737M1671 1777L1817 1742M1395 1813L1607 1868M1411 1868L1452 1910M1452 1910L1509 1925M1509 1925L1565 1910M1607 1868L1565 1910M1395 1813L1411 1868M1619 1813L1607 1868M1411 1763L1395 1813M1605 1757L1619 1813M1452 1717L1411 1763M1509 1698L1564 1717M1452 1717L1509 1698M1564 1717L1605 1757M1411 1868L1619 1813M1452 1717L1564 1717M1236 1707L1257 1757M1257 1757L1303 1778M1349 1757L1303 1778M1257 1668L1303 1642M1303 1642L1352 1667M1352 1667L1371 1710M1371 1710L1349 1757M1257 1668L1236 1707M1200 1628L1259 1597M1139 1609L1200 1628M1125 1443L1097 1560M1183 1414L1092 1497M1245 1433L1293 1540M1288 1481L1259 1597"/>
</g>
<path d="M1323 1399L1411 1868M1395 1813L1619 1813M1662 1737L1817 1742M1374 1311L1374 1370M1125 1443L1097 1560" stroke="#e08676" stroke-opacity=".6" stroke-width="8" stroke-linecap="round"/>
<polygon points="1788,1420 1845,1420 1899,1440 1931,1487 1937,1545 1913,1601 1864,1637 1806,1635 1753,1612 1720,1563 1717,1506 1739,1454" fill="#e58875" fill-opacity=".8"/>
<g stroke="#d4553f" stroke-opacity=".55" stroke-width="10" stroke-linecap="round">
<path d="M1788 1420L1845 1420M1788 1420L1899 1440M1788 1420L1931 1487M1788 1420L1937 1545M1788 1420L1913 1601M1788 1420L1864 1637M1788 1420L1806 1635M1788 1420L1753 1612M1788 1420L1720 1563M1788 1420L1717 1506M1845 1420L1899 1440M1845 1420L1931 1487M1845 1420L1937 1545M1845 1420L1913 1601M1845 1420L1864 1637M1845 1420L1806 1635M1845 1420L1753 1612M1845 1420L1720 1563M1899 1440L1931 1487M1899 1440L1937 1545M1899 1440L1913 1601M1899 1440L1864 1637M1899 1440L1806 1635M1899 1440L1753 1612M1899 1440L1720 1563M1931 1487L1937 1545M1931 1487L1913 1601M1931 1487L1864 1637M1931 1487L1806 1635M1931 1487L1753 1612M1931 1487L1720 1563M1937 1545L1913 1601M1937 1545L1864 1637M1937 1545L1806 1635M1937 1545L1753 1612M1937 1545L1720 1563M1913 1601L1864 1637M1913 1601L1806 1635M1913 1601L1753 1612M1913 1601L1720 1563M1864 1637L1806 1635M1806 1635L1753 1612M1753 1612L1720 1563M1720 1563L1717 1506M1717 1506L1739 1454M1739 1454L1788 1420"/>
</g>
<g stroke="#9cc3df" stroke-opacity=".5" stroke-width="3" stroke-linecap="round">
<path d="M1323 1280L1690 1402M1272 1311L1741 1372M1272 1370L1562 1345M1183 1414L1899 1440M1257 1757L1564 1717M1371 1710L1564 1717M1303 1778L1605 1757M1349 1757L1452 1717M1236 1707L1481 1638"/>
</g>
<path d="M1411 1763L1605 1757" stroke="#8fbadb" stroke-opacity=".7" stroke-width="5"/>
<path d="M1481 1433L1597 1565M1481 1433L1420 1468" stroke="#6a9ecb" stroke-width="9" stroke-linecap="round"/>
<g fill="#7fcdbb">
<circle cx="1535" cy="1173" r="24.5"/><circle cx="1480" cy="1186" r="24.5"/><circle cx="1584" cy="1202" r="24.5"/><circle cx="1441" cy="1225" r="24.5"/><circle cx="1610" cy="1251" r="24.5"/><circle cx="1323" cy="1280" r="24.5"/><circle cx="1434" cy="1280" r="24.5"/><circle cx="1272" cy="1311" r="24.5"/><circle cx="1374" cy="1311" r="24.5"/><circle cx="1600" cy="1306" r="24.5"/><circle cx="1666" cy="1309" r="24.5"/><circle cx="1726" cy="1313" r="24.5"/><circle cx="1458" cy="1328" r="24.5"/><circle cx="1562" cy="1345" r="24.5"/><circle cx="1507" cy="1353" r="24.5"/><circle cx="1643" cy="1365" r="24.5"/><circle cx="1272" cy="1370" r="24.5"/><circle cx="1374" cy="1370" r="24.5"/><circle cx="1741" cy="1372" r="24.5"/><circle cx="1323" cy="1399" r="24.5"/><circle cx="1690" cy="1402" r="24.5"/><circle cx="1183" cy="1414" r="24.5"/><circle cx="1788" cy="1420" r="24.5"/><circle cx="1845" cy="1420" r="24.5"/><circle cx="1245" cy="1433" r="24.5"/><circle cx="1125" cy="1443" r="24.5"/><circle cx="1899" cy="1440" r="24.5"/><circle cx="1739" cy="1454" r="24.5"/><circle cx="1288" cy="1481" r="24.5"/><circle cx="1931" cy="1487" r="24.5"/><circle cx="1092" cy="1497" r="24.5"/><circle cx="1717" cy="1506" r="24.5"/><circle cx="1293" cy="1540" r="24.5"/><circle cx="1937" cy="1545" r="24.5"/><circle cx="1097" cy="1560" r="24.5"/><circle cx="1720" cy="1563" r="24.5"/><circle cx="1259" cy="1597" r="24.5"/><circle cx="1753" cy="1612" r="24.5"/><circle cx="1913" cy="1601" r="24.5"/><circle cx="1139" cy="1609" r="24.5"/><circle cx="1200" cy="1628" r="24.5"/><circle cx="1806" cy="1635" r="24.5"/><circle cx="1864" cy="1637" r="24.5"/><circle cx="1303" cy="1642" r="24.5"/><circle cx="1257" cy="1668" r="24.5"/><circle cx="1352" cy="1667" r="24.5"/><circle cx="1740" cy="1660" r="24.5"/><circle cx="1701" cy="1675" r="24.5"/><circle cx="1781" cy="1677" r="24.5"/><circle cx="1236" cy="1707" r="24.5"/><circle cx="1371" cy="1710" r="24.5"/><circle cx="1452" cy="1717" r="24.5"/><circle cx="1509" cy="1698" r="24.5"/><circle cx="1564" cy="1717" r="24.5"/><circle cx="1671" cy="1700" r="24.5"/><circle cx="1806" cy="1707" r="24.5"/><circle cx="1662" cy="1737" r="24.5"/><circle cx="1817" cy="1742" r="24.5"/><circle cx="1257" cy="1757" r="24.5"/><circle cx="1349" cy="1757" r="24.5"/><circle cx="1411" cy="1763" r="24.5"/><circle cx="1605" cy="1757" r="24.5"/><circle cx="1303" cy="1778" r="24.5"/><circle cx="1671" cy="1777" r="24.5"/><circle cx="1784" cy="1782" r="24.5"/><circle cx="1395" cy="1813" r="24.5"/><circle cx="1619" cy="1813" r="24.5"/><circle cx="1698" cy="1810" r="24.5"/><circle cx="1763" cy="1820" r="24.5"/><circle cx="1738" cy="1837" r="24.5"/><circle cx="1411" cy="1868" r="24.5"/><circle cx="1607" cy="1868" r="24.5"/><circle cx="1452" cy="1910" r="24.5"/><circle cx="1565" cy="1910" r="24.5"/><circle cx="1509" cy="1925" r="24.5"/>
<circle cx="1701" cy="1178" r="19"/>
</g>
<g fill="#ffff33">
<path d="M1481 1403l30 30-30 30-30-30z"/><path d="M1554 1413l30 30-30 30-30-30z"/><path d="M1420 1438l30 30-30 30-30-30z"/><path d="M1597 1470l30 30-30 30-30-30z"/><path d="M1395 1505l30 30-30 30-30-30z"/><path d="M1597 1535l30 30-30 30-30-30z"/><path d="M1420 1572l30 30-30 30-30-30z"/><path d="M1481 1608l30 30-30 30-30-30z"/><path d="M1550 1595l30 30-30 30-30-30z"/>
<path d="M1701 1209l24 24-24 24-24-24z"/>
</g>
<g font-size="25" fill="#222"><text x="1746" y="1188">exposures</text><text x="1744" y="1238">epidemiological factors</text></g>
<g font-size="21" fill="#333" text-anchor="middle">
<text x="1541" y="1173">triclosan</text><text x="1495" y="1191">chlorothalonil</text><text x="1600" y="1212">triclocarban</text><text x="1450" y="1230">lufenuron</text><text x="1610" y="1258">IBA</text><text x="1331" y="1269">chlorpyrifos</text><text x="1463" y="1285">fipronil sulphone</text><text x="1281" y="1316">triazophos</text><text x="1383" y="1316">diazinon</text><text x="1603" y="1310">2, 4-D</text><text x="1673" y="1308">cortisol</text><text x="1738" y="1327">tinidazole</text><text x="1469" y="1334">iprodione</text><text x="1574" y="1351">isoprocarb</text><text x="1519" y="1369">etofenprox</text><text x="1645" y="1368">cortisone</text><text x="1282" y="1375">dichlorvos</text><text x="1386" y="1375">dimethoate</text><text x="1755" y="1380">cyclamic.acid</text><text x="1336" y="1405">mecarbam</text><text x="1703" y="1409">acesulfame</text><text x="1196" y="1419">beta-HCH</text><text x="1798" y="1431">PFUnDA</text><text x="1850" y="1411">PFDA</text><text x="1262" y="1439">methoxychlor</text><text x="1141" y="1450">p,p'-DDD</text><text x="1908" y="1445">PFDoDA</text><text x="1747" y="1463">6: 2 diPAP</text><text x="1293" y="1487">mirex</text><text x="1941" y="1493">PFTrDA</text><text x="1107" y="1504">p,p'-DDE</text><text x="1724" y="1512">PFPeA</text><text x="1297" y="1546">HCB</text><text x="1934" y="1551">6:2 Cl-PFAES</text><text x="1112" y="1566">p,p'-DDT</text><text x="1727" y="1570">PFOA</text><text x="1273" y="1594">pentachlorobenzene</text><text x="1761" y="1617">PFNA</text><text x="1920" y="1604">PFOS</text><text x="1139" y="1616">pentachlorophenol</text><text x="1215" y="1635">alpha.HCH</text><text x="1815" y="1646">PFHxS</text><text x="1873" y="1632">PFHpS</text><text x="1311" y="1650">dibutyl phosphate</text><text x="1219" y="1677">triphenyl phosphate</text><text x="1374" y="1676">bisphenol A</text><text x="1753" y="1662">phenanthrene</text><text x="1679" y="1680">chrysene</text><text x="1818" y="1686">acenaphthene</text><text x="1236" y="1714">MEP</text><text x="1385" y="1712">bisphenol F</text><text x="1460" y="1727">PCB 180</text><text x="1516" y="1704">PCB 167</text><text x="1575" y="1722">PCB 118</text><text x="1684" y="1711">fluoranthene</text><text x="1833" y="1715">fluorene</text><text x="1662" y="1746">pyrene</text><text x="1868" y="1750">acenaphthylene</text><text x="1226" y="1765">bisphenol S</text><text x="1349" y="1757">bisphenol AF</text><text x="1425" y="1770">PCB 183</text><text x="1610" y="1767">PCB 169</text><text x="1300" y="1784">MCHP</text><text x="1704" y="1787">benzo[a]pyrene</text><text x="1880" y="1787">benzo[b]fluoranthene</text><text x="1406" y="1819">PCB 77</text><text x="1597" y="1819">PCB 105</text><text x="1744" y="1814">benzo (a) anthracene</text><text x="1815" y="1830">anthracene</text><text x="1758" y="1846">benzo[k]fluoranthene</text><text x="1423" y="1874">PCB 114</text><text x="1616" y="1874">PCB 156</text><text x="1464" y="1915">PCB 126</text><text x="1575" y="1911">PCB 153</text><text x="1520" y="1937">PCB 138</text>
</g>
<g font-size="18.5" fill="#333" text-anchor="middle">
<text x="1481" y="1439">gender</text><text x="1554" y="1449">location</text><text x="1420" y="1474">drinking</text><text x="1597" y="1506">samplingTime</text><text x="1395" y="1541">maritalStatus</text><text x="1597" y="1577">smoking</text><text x="1420" y="1608">age</text><text x="1481" y="1644">income</text><text x="1550" y="1631">education</text>
</g>
</svg>
<div id="hm">
<i class=Q></i><i class=v></i><i class=w></i><i class=u></i><i class=x></i><i class=J></i><i class=A></i><i class=A></i><i class=A></i>
<i class=R></i><i class=V></i><i class=R></i><i class=G></i><i class=x></i><i class=J></i><i class=J></i><i class=z></i><i class=A></i>
<i class=U></i><i class=S></i><i class=A></i><i class=B></i><i class=C></i><i class=B></i><i class=E></i><i class=B></i><i class=K></i>
<i class=T></i><i class=S></i><i class=A></i><i class=H></i><i class=A></i><i class=A></i><i class=D></i><i class=A></i><i class=J></i>
<i class=x></i><i class=G></i><i class=J></i><i class=B></i><i class=A></i><i class=A></i><i class=C></i><i class=A></i><i class=M></i>
<i class=B></i><i class=A></i><i class=B></i><i class=G></i><i class=A></i><i class=A></i><i class=D></i><i class=B></i><i class=J></i>
<i class=C></i><i class=B></i><i class=G></i><i class=G></i><i class=A></i><i class=J></i><i class=D></i><i class=J></i><i class=B></i>
<i class=A></i><i class=A></i><i class=J></i><i class=A></i><i class=J></i><i class=A></i><i class=A></i><i class=J></i><i class=A></i>
<i class=A></i><i class=B></i><i class=E></i><i class=D></i><i class=A></i><i class=J></i><i class=C></i><i class=J></i><i class=B></i>
<i class=O></i><i class=Q></i><i class=J></i><i class=B></i><i class=A></i><i class=A></i><i class=J></i><i class=E></i><i class=B></i>
<i class=w></i><i class=x></i><i class=K></i><i class=A></i><i class=A></i><i class=A></i><i class=J></i><i class=B></i><i class=B></i>
<i class=A></i><i class=x></i><i class=B></i><i class=B></i><i class=B></i><i class=J></i><i class=B></i><i class=B></i><i class=B></i>
<i class=G></i><i class=D></i><i class=C></i><i class=B></i><i class=B></i><i class=B></i><i class=B></i><i class=B></i><i class=J></i>
<i class=u></i><i class=B></i><i class=D></i><i class=D></i><i class=B></i><i class=B></i><i class=D></i><i class=B></i><i class=B></i>
<i class=A></i><i class=D></i><i class=C></i><i class=B></i><i class=B></i><i class=B></i><i class=B></i><i class=B></i><i class=B></i>
<i class=N></i><i class=G></i><i class=K></i><i class=A></i><i class=A></i><i class=B></i><i class=E></i><i class=G></i><i class=A></i>
<i class=W></i><i class=X></i><i class=A></i><i class=T></i><i class=A></i><i class=A></i><i class=K></i><i class=K></i><i class=H></i>
<i class=H></i><i class=x></i><i class=D></i><i class=B></i><i class=B></i><i class=B></i><i class=B></i><i class=J></i><i class=K></i>
<i class=u></i><i class=K></i><i class=D></i><i class=B></i><i class=B></i><i class=K></i><i class=B></i><i class=B></i><i class=B></i>
<i class=B></i><i class=G></i><i class=D></i><i class=D></i><i class=C></i><i class=B></i><i class=B></i><i class=B></i><i class=B></i>
<i class=A></i><i class=c></i><i class=H></i><i class=I></i><i class=C></i><i class=K></i><i class=B></i><i class=B></i><i class=u></i>
<i class=A></i><i class=P></i><i class=A></i><i class=H></i><i class=B></i><i class=G></i><i class=C></i><i class=B></i><i class=H></i>
<i class=K></i><i class=L></i><i class=u></i><i class=B></i><i class=B></i><i class=B></i><i class=B></i><i class=A></i><i class=B></i>
<i class=K></i><i class=S></i><i class=K></i><i class=C></i><i class=B></i><i class=C></i><i class=B></i><i class=B></i><i class=B></i>
<i class=g></i><i class=D></i><i class=Y></i><i class=L></i><i class=B></i><i class=g></i><i class=E></i><i class=B></i><i class=K></i>
<i class=P></i><i class=O></i><i class=L></i><i class=K></i><i class=K></i><i class=A></i><i class=C></i><i class=G></i><i class=B></i>
<i class=W></i><i class=Q></i><i class=E></i><i class=A></i><i class=A></i><i class=J></i><i class=A></i><i class=J></i><i class=K></i>
<i class=Z></i><i class=Y></i><i class=y></i><i class=A></i><i class=A></i><i class=H></i><i class=A></i><i class=A></i><i class=G></i>
<i class=a></i><i class=T></i><i class=H></i><i class=Y></i><i class=A></i><i class=K></i><i class=J></i><i class=B></i><i class=B></i>
<i class=Z></i><i class=T></i><i class=H></i><i class=Y></i><i class=A></i><i class=K></i><i class=J></i><i class=B></i><i class=B></i>
<i class=a></i><i class=Y></i><i class=I></i><i class=V></i><i class=A></i><i class=K></i><i class=K></i><i class=K></i><i class=B></i>
<i class=Q></i><i class=D></i><i class=I></i><i class=H></i><i class=A></i><i class=B></i><i class=B></i><i class=B></i><i class=J></i>
<i class=T></i><i class=V></i><i class=D></i><i class=D></i><i class=A></i><i class=K></i><i class=D></i><i class=J></i><i class=K></i>
<i class=D></i><i class=M></i><i class=C></i><i class=E></i><i class=B></i><i class=J></i><i class=B></i><i class=B></i><i class=B></i>
<i class=E></i><i class=H></i><i class=C></i><i class=C></i><i class=B></i><i class=J></i><i class=B></i><i class=B></i><i class=B></i>
<i class=C></i><i class=D></i><i class=B></i><i class=B></i><i class=B></i><i class=J></i><i class=B></i><i class=B></i><i class=B></i>
<i class=C></i><i class=C></i><i class=G></i><i class=G></i><i class=A></i><i class=J></i><i class=E></i><i class=A></i><i class=B></i>
<i class=c></i><i class=d></i><i class=A></i><i class=A></i><i class=B></i><i class=B></i><i class=B></i><i class=B></i><i class=B></i>
<i class=C></i><i class=D></i><i class=F></i><i class=G></i><i class=A></i><i class=J></i><i class=D></i><i class=J></i><i class=B></i>
<i class=C></i><i class=D></i><i class=F></i><i class=G></i><i class=A></i><i class=J></i><i class=D></i><i class=A></i><i class=B></i>
<i class=C></i><i class=D></i><i class=M></i><i class=B></i><i class=J></i><i class=K></i><i class=J></i><i class=B></i><i class=B></i>
<i class=C></i><i class=D></i><i class=B></i><i class=B></i><i class=B></i><i class=B></i><i class=B></i><i class=B></i><i class=B></i>
<i class=B></i><i class=B></i><i class=J></i><i class=B></i><i class=B></i><i class=B></i><i class=B></i><i class=B></i><i class=B></i>
<i class=B></i><i class=C></i><i class=B></i><i class=C></i><i class=B></i><i class=B></i><i class=D></i><i class=B></i><i class=B></i>
<i class=B></i><i class=D></i><i class=J></i><i class=J></i><i class=K></i><i class=B></i><i class=B></i><i class=B></i><i class=B></i>
<i class=B></i><i class=C></i><i class=B></i><i class=D></i><i class=B></i><i class=B></i><i class=B></i><i class=B></i><i class=B></i>
<i class=B></i><i class=C></i><i class=B></i><i class=J></i><i class=B></i><i class=B></i><i class=B></i><i class=B></i><i class=B></i>
<i class=B></i><i class=C></i><i class=J></i><i class=B></i><i class=J></i><i class=B></i><i class=B></i><i class=B></i><i class=B></i>
<i class=J></i><i class=D></i><i class=J></i><i class=B></i><i class=J></i><i class=B></i><i class=B></i><i class=B></i><i class=B></i>
<i class=K></i><i class=E></i><i class=K></i><i class=B></i><i class=B></i><i class=B></i><i class=B></i><i class=B></i><i class=B></i>
<i class=Q></i><i class=K></i><i class=C></i><i class=C></i><i class=J></i><i class=F></i><i class=F></i><i class=D></i><i class=J></i>
<i class=u></i><i class=L></i><i class=P></i><i class=u></i><i class=u></i><i class=u></i><i class=D></i><i class=C></i><i class=B></i>
<i class=A></i><i class=E></i><i class=b></i><i class=c></i><i class=L></i><i class=L></i><i class=A></i><i class=A></i><i class=M></i>
<i class=M></i><i class=J></i><i class=L></i><i class=L></i><i class=K></i><i class=J></i><i class=A></i><i class=A></i><i class=M></i>
<i class=h></i><i class=k></i><i class=H></i><i class=u></i><i class=K></i><i class=B></i><i class=A></i><i class=J></i><i class=D></i>
<i class=l></i><i class=m></i><i class=I></i><i class=J></i><i class=K></i><i class=D></i><i class=A></i><i class=B></i><i class=C></i>
<i class=n></i><i class=Z></i><i class=A></i><i class=G></i><i class=D></i><i class=x></i><i class=B></i><i class=B></i><i class=C></i>
<i class=o></i><i class=Z></i><i class=A></i><i class=A></i><i class=B></i><i class=E></i><i class=B></i><i class=B></i><i class=C></i>
<i class=p></i><i class=q></i><i class=A></i><i class=B></i><i class=B></i><i class=E></i><i class=B></i><i class=B></i><i class=E></i>
<i class=k></i><i class=q></i><i class=A></i><i class=B></i><i class=B></i><i class=E></i><i class=B></i><i class=B></i><i class=C></i>
<i class=r></i><i class=R></i><i class=u></i><i class=B></i><i class=B></i><i class=E></i><i class=B></i><i class=B></i><i class=C></i>
<i class=s></i><i class=H></i><i class=u></i><i class=C></i><i class=B></i><i class=G></i><i class=B></i><i class=B></i><i class=C></i>
<i class=t></i><i class=E></i><i class=H></i><i class=G></i><i class=K></i><i class=C></i><i class=C></i><i class=B></i><i class=C></i>
<i class=H></i><i class=L></i><i class=K></i><i class=J></i><i class=G></i><i class=B></i><i class=J></i><i class=B></i><i class=B></i>
<i class=E></i><i class=K></i><i class=G></i><i class=B></i><i class=J></i><i class=C></i><i class=C></i><i class=B></i><i class=B></i>
<i class=K></i><i class=K></i><i class=B></i><i class=B></i><i class=J></i><i class=K></i><i class=C></i><i class=C></i><i class=C></i>
<i class=B></i><i class=A></i><i class=L></i><i class=u></i><i class=e></i><i class=B></i><i class=C></i><i class=B></i><i class=M></i>
<i class=M></i><i class=J></i><i class=C></i><i class=F></i><i class=B></i><i class=B></i><i class=C></i><i class=B></i><i class=B></i>
<i class=J></i><i class=N></i><i class=J></i><i class=J></i><i class=K></i><i class=L></i><i class=C></i><i class=G></i><i class=C></i>
<i class=J></i><i class=J></i><i class=B></i><i class=B></i><i class=B></i><i class=u></i><i class=J></i><i class=B></i><i class=B></i>
<i class=J></i><i class=D></i><i class=B></i><i class=B></i><i class=A></i><i class=A></i><i class=B></i><i class=B></i><i class=B></i>
<i class=d></i><i class=q></i><i class=K></i><i class=A></i><i class=A></i><i class=A></i><i class=D></i><i class=E></i><i class=B></i>
<i class=e></i><i class=L></i><i class=K></i><i class=B></i><i class=J></i><i class=A></i><i class=A></i><i class=B></i><i class=H></i>
<i class=f></i><i class=I></i><i class=K></i><i class=A></i><i class=A></i><i class=A></i><i class=B></i><i class=J></i><i class=A></i>
</div>
</body></html>
